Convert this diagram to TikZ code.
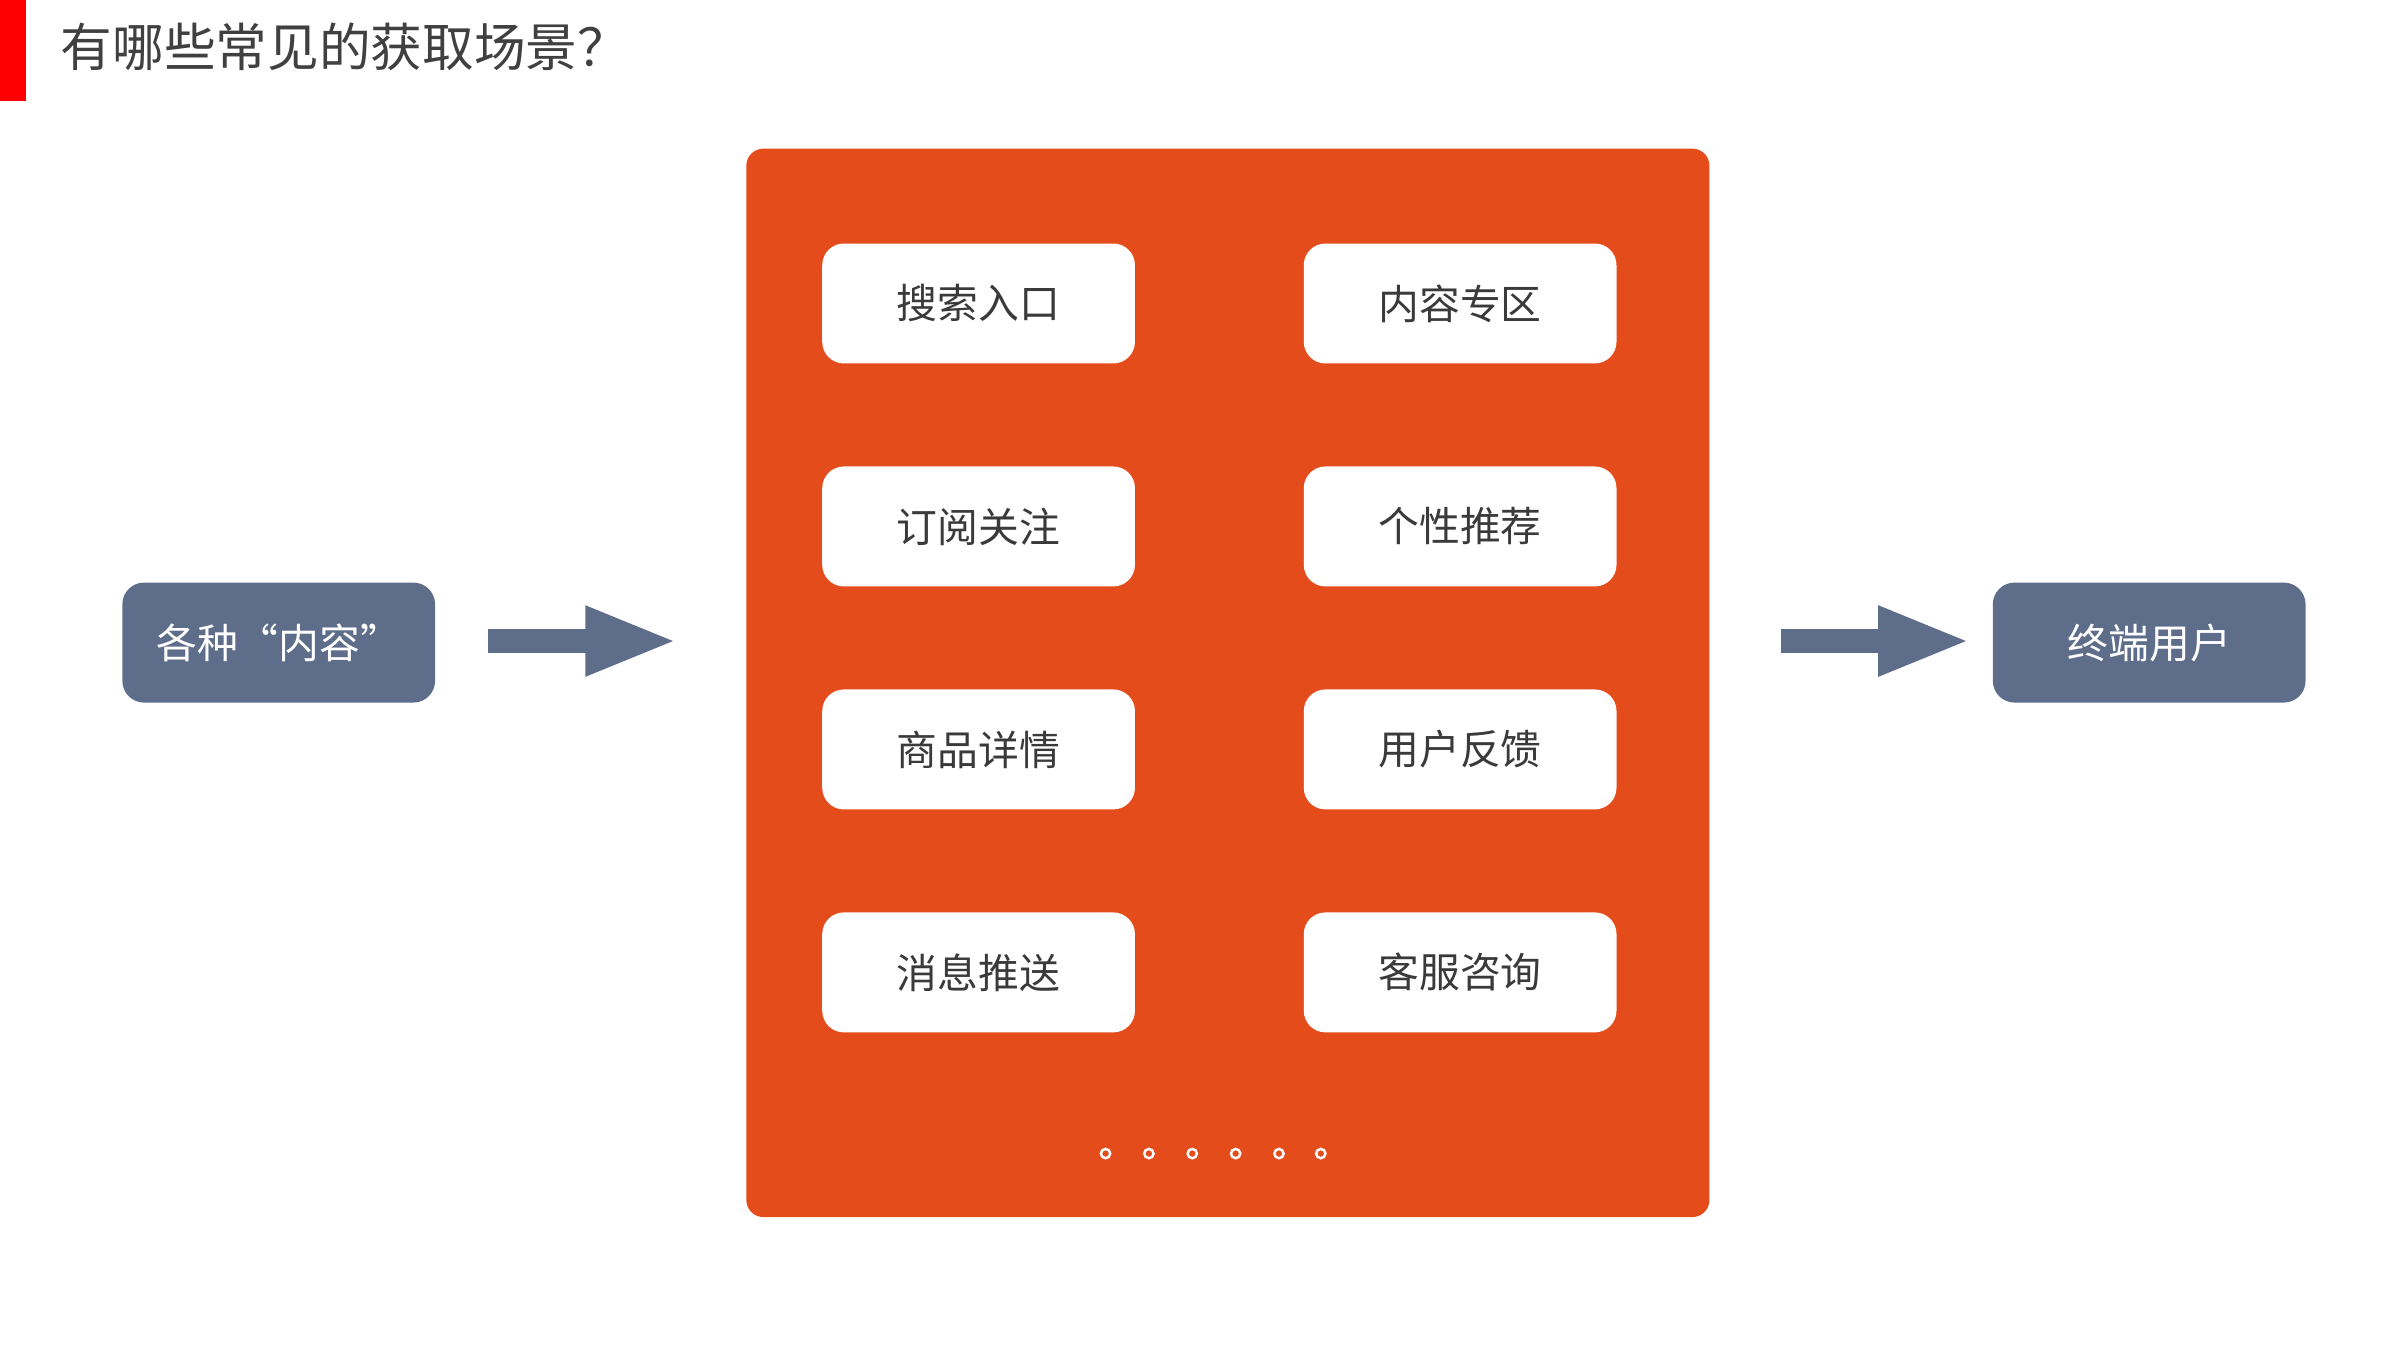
\documentclass[tikz,border=0pt]{standalone}
\usepackage{fontspec}
\setmainfont{Noto Sans CJK SC}
\usetikzlibrary{arrows.meta}
\definecolor{orng}{HTML}{E54C1B}
\definecolor{slate}{HTML}{5E6E8A}
\definecolor{ttl}{HTML}{404040}
\begin{document}
\begin{tikzpicture}[x=0.02cm,y=-0.02cm,
  card/.style={fill=white,rounded corners=0.28cm,minimum width=4.04cm,minimum height=1.55cm,font=\fontsize{15}{15}\selectfont,text=ttl!90!black},
  blue/.style={fill=slate,rounded corners=0.28cm,minimum width=4.04cm,minimum height=1.55cm,font=\fontsize{15}{15}\selectfont,text=white},
  bigarrow/.style={draw=slate,line width=0.32cm,-{Triangle[length=1.2cm,width=0.82cm]}},
  dot/.style={circle,draw=white,line width=0.9pt,fill=orng,inner sep=0pt,minimum size=0.12cm}]
\useasboundingbox (0,0) rectangle (1550,872);
\fill[red] (0,0) rectangle (17,65);
\node[anchor=west,text=ttl,font=\fontsize{19}{19}\selectfont] (title) at (33,30) {有哪些常见的获取场景？};
\fill[orng,rounded corners=0.22cm] (482,96) rectangle (1104,786);
\node[card] (a1) at (632,196) {搜索入口};
\node[card] (b1) at (943,196) {内容专区};
\node[card] (a2) at (632,340) {订阅关注};
\node[card] (b2) at (943,340) {个性推荐};
\node[card] (a3) at (632,484) {商品详情};
\node[card] (b3) at (943,484) {用户反馈};
\node[card] (a4) at (632,628) {消息推送};
\node[card] (b4) at (943,628) {客服咨询};
\foreach \i/\x in {1/714,2/742,3/770,4/798,5/826,6/853} \node[dot] (d\i) at (\x,745) {};
\node[blue] (src) at (180,415) {各种“内容”};
\node[blue] (usr) at (1388,415) {终端用户};
\coordinate (l1) at (315,414); \coordinate (l2) at (438,414);
\coordinate (r1) at (1150,414); \coordinate (r2) at (1273,414);
\draw[bigarrow] (l1) -- (l2);
\draw[bigarrow] (r1) -- (r2);
\end{tikzpicture}
\end{document}
